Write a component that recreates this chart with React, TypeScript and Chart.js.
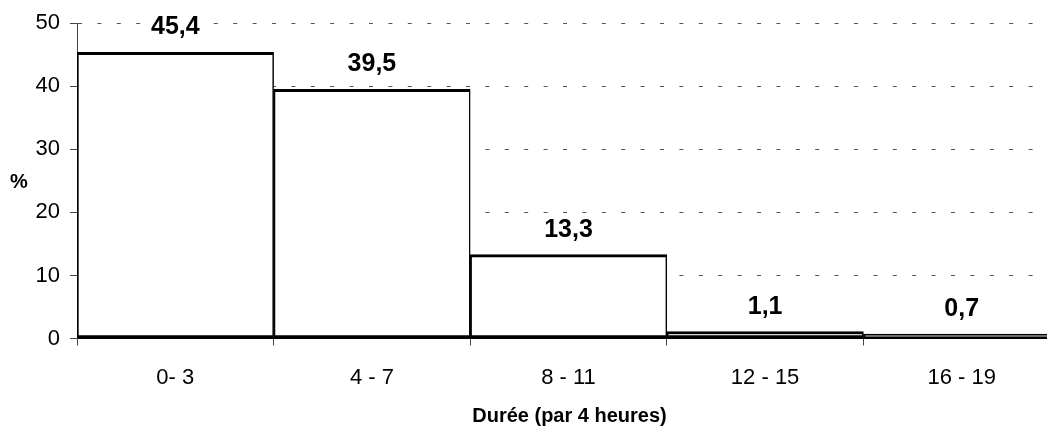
import React, { useEffect, useRef } from "react";
import { Chart, registerables } from "chart.js";

Chart.register(...registerables);

const categories = ["0- 3", "4 - 7", "8 - 11", "12 - 15", "16 - 19"];
const percentages = [45.4, 39.5, 13.3, 1.1, 0.7];
const valueLabels = ["45,4", "39,5", "13,3", "1,1", "0,7"];
const yMin = 0;
const yMax = 50;
const yStep = 10;
const xTitle = "Durée (par 4 heures)";
const yTitle = "%";

const FONT = "'Liberation Sans', Arial, Helvetica, sans-serif";

const textPlugin = {
  id: "textPlugin",
  afterDatasetsDraw(chart: any) {
    const ctx = chart.ctx as CanvasRenderingContext2D;
    const meta = chart.getDatasetMeta(0);
    ctx.save();
    ctx.font = `bold 25px ${FONT}`;
    ctx.textAlign = "center";
    ctx.textBaseline = "alphabetic";
    meta.data.forEach((el: any, i: number) => {
      const text = valueLabels[i];
      const w = ctx.measureText(text).width;
      const y = el.y - 18;
      ctx.fillStyle = "#ffffff";
      ctx.fillRect(el.x - w / 2 - 3, y - 19, w + 6, 22);
      ctx.fillStyle = "#000000";
      ctx.fillText(text, el.x, y);
    });
    const area = chart.chartArea;
    ctx.font = `bold 20px ${FONT}`;
    ctx.fillStyle = "#000000";
    ctx.textAlign = "center";
    ctx.fillText(xTitle, (area.left + area.right) / 2 + 1, 422);
    ctx.fillText(yTitle, 19, 188);
    ctx.restore();
  },
};

export default function App() {
  const ref = useRef<HTMLCanvasElement | null>(null);

  useEffect(() => {
    if (!ref.current) return;
    const chart = new Chart(ref.current, {
      type: "bar",
      data: {
        labels: categories,
        datasets: [
          {
            data: percentages,
            backgroundColor: "#ffffff",
            borderColor: "#000000",
            borderWidth: { top: 3, bottom: 3, left: 2, right: 1.5 },
            borderSkipped: false,
            barPercentage: 1,
            categoryPercentage: 1,
          },
        ],
      },
      options: {
        animation: false,
        responsive: false,
        devicePixelRatio: 1,
        layout: { padding: { top: 21, left: 0, right: 0, bottom: 0 } },
        plugins: {
          legend: { display: false },
          tooltip: { enabled: false },
          title: { display: false },
        },
        scales: {
          x: {
            grid: {
              display: true,
              offset: true,
              drawOnChartArea: false,
              drawTicks: true,
              tickLength: 7,
              tickColor: "#444444",
              tickWidth: 1,
            },
            border: { display: true, color: "#000000", width: 1 },
            ticks: {
              color: "#000000",
              font: { family: FONT, size: 22 },
              padding: 19,
              maxRotation: 0,
              autoSkip: false,
            },
            afterFit(scale: any) {
              scale.height = 432 - 338.5;
            },
          },
          y: {
            min: yMin,
            max: yMax,
            grid: {
              color: "#555555",
              lineWidth: 1,
              drawTicks: true,
              tickLength: 7,
              tickColor: "#444444",
              tickWidth: 1,
              tickBorderDash: [],
            },
            border: { display: true, color: "#444444", width: 1, dash: [4, 15.4] },
            ticks: {
              stepSize: yStep,
              color: "#000000",
              font: { family: FONT, size: 22 },
              padding: 10,
            },
            afterFit(scale: any) {
              scale.width = 77;
            },
          },
        },
      },
      plugins: [textPlugin],
    });
    return () => chart.destroy();
  }, []);

  return (
    <div
      style={{
        position: "fixed",
        left: 0,
        top: 0,
        width: 1047,
        height: 432,
        overflow: "hidden",
        background: "#ffffff",
      }}
    >
      <canvas
        ref={ref}
        width={1060}
        height={432}
        style={{ display: "block", width: 1060, height: 432 }}
      />
    </div>
  );
}
